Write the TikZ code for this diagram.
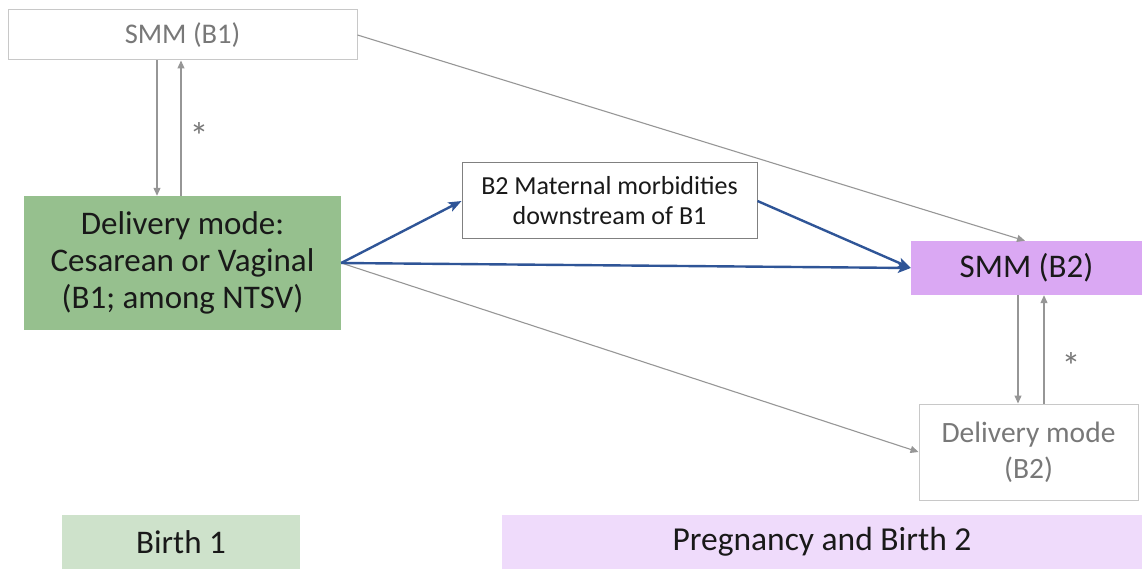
\documentclass[tikz,border=0pt]{standalone}
\usepackage{fontspec}
\setmainfont{Carlito}
\usetikzlibrary{arrows.meta}
\definecolor{greenbox}{RGB}{150,192,142}
\definecolor{greenlight}{RGB}{206,226,203}
\definecolor{purplebox}{RGB}{218,168,243}
\definecolor{purplelight}{RGB}{239,219,251}
\definecolor{bluearrow}{RGB}{47,85,151}
\definecolor{grayline}{RGB}{150,150,150}
\definecolor{grayborder}{RGB}{200,200,200}
\definecolor{graytext}{RGB}{120,120,120}
\definecolor{darkborder}{RGB}{128,128,128}
\definecolor{textdark}{RGB}{25,25,25}
\newcommand{\fs}[2]{\fontsize{#1}{#2}\selectfont}
\tikzset{
  box/.style={rectangle, inner sep=0pt, align=center, anchor=center},
  lightbox/.style={box, draw=grayborder, line width=1pt, text=graytext},
  grayarrow/.style={draw=grayline, line width=1.1pt, -{Triangle[length=8pt,width=7pt]}},
  bluearr/.style={draw=bluearrow, line width=2.4pt, -{Stealth[length=13pt,width=10pt,inset=3pt]}},
  star/.style={text=graytext, font=\fs{38}{40}}
}
\begin{document}
\begin{tikzpicture}[x=1pt,y=-1pt]
\useasboundingbox (0,0) rectangle (1142,569);
% nodes
\node[lightbox, minimum width=349pt, minimum height=50pt, font=\fs{28.5}{34}] (smmb1) at (182.5,35) {SMM (B1)};
\node[box, fill=greenbox, minimum width=317pt, minimum height=134pt, text=textdark, font=\fs{33}{37}] (green) at (182.5,263) {Delivery mode:\\Cesarean or Vaginal\\(B1; among NTSV)};
\node[box, draw=darkborder, line width=1pt, fill=white, minimum width=295pt, minimum height=76pt, text=textdark, font=\fs{26}{30}] (b2m) at (609.5,201) {B2 Maternal morbidities\\downstream of B1};
\node[box, fill=purplebox, minimum width=231pt, minimum height=54pt, text=textdark, font=\fs{33}{38}] (smmb2) at (1026.5,268) {SMM (B2)};
\node[lightbox, minimum width=219pt, minimum height=96pt, font=\fs{29.5}{36}] (delb2) at (1028.5,452) {Delivery mode\\(B2)};
\node[box, fill=greenlight, minimum width=238pt, minimum height=54pt, text=textdark, font=\fs{33}{38}] (birth1) at (181,542) {Birth 1};
\node[box, fill=purplelight, minimum width=640pt, minimum height=54pt, text=textdark, font=\fs{33.5}{38}] (preg) at (822,542) {Pregnancy and Birth 2};
% stars
\node[star] (s1) at (199,136) {*};
\node[star] (s2) at (1071,366) {*};
% vertical arrows
\draw[grayarrow] ([xshift=-25.5pt]smmb1.south) -- ([xshift=-25.5pt]green.north);
\draw[grayarrow] ([xshift=-1.5pt]green.north) -- ([xshift=-1.5pt]smmb1.south);
\draw[grayarrow] ([xshift=-8.5pt]smmb2.south) -- ([xshift=-10.5pt]delb2.north);
\draw[grayarrow] ([xshift=15.5pt]delb2.north) -- ([xshift=17.5pt]smmb2.south);
% diagonal gray arrows
\draw[grayarrow] (smmb1.east) -- ([xshift=-1.5pt]smmb2.north);
\draw[grayarrow] (green.east) -- (delb2.west);
% blue arrows
\draw[bluearr] (green.east) -- (b2m.west);
\draw[bluearr] (green.east) -- (smmb2.west);
\draw[bluearr] (b2m.east) -- (smmb2.west);
\end{tikzpicture}
\end{document}
